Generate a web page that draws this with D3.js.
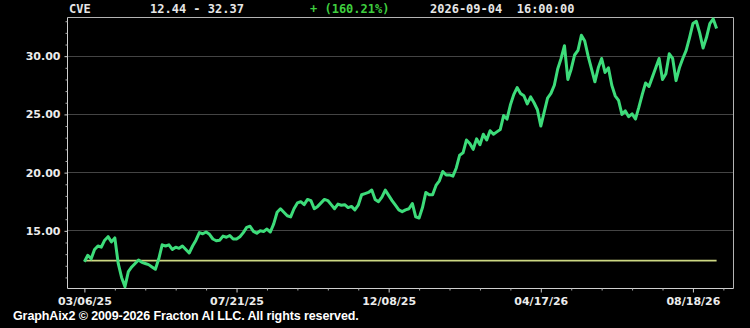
<!DOCTYPE html>
<html lang="en">
<head>
  <meta charset="utf-8">
  <title>CVE</title>
  <script src="https://cdn.jsdelivr.net/npm/d3@7"></script>
  <style>
    body { margin: 0; background: #000; }
    svg { display: block; }
    .hdr { font: bold 12px "DejaVu Sans Mono", monospace; fill: #e6e6e6; }
    .tick-label { font: bold 11px "DejaVu Sans", sans-serif; fill: #ececec; }
    .footer { font: bold 12.5px "Liberation Sans", Arial, sans-serif; fill: #fff; letter-spacing: -0.1px; }
  </style>
</head>
<body>
<script>
  // header
  var symbol = "CVE";
  var rangeText = "12.44 - 32.37";
  var changeText = "+ (160.21%)";
  var stampText = "2026-09-04  16:00:00";

  // closes, one every two sessions
  var closes = [
    12.35, 12.9, 12.6, 13.4, 13.7, 13.6, 14.2, 14.5, 14.05, 14.4,
    12.2, 11.0, 10.2, 11.5, 11.9, 12.2, 12.5, 12.3, 12.2, 12.1,
    11.9, 11.7, 12.6, 13.8, 13.7, 13.8, 13.4, 13.6, 13.5, 13.7,
    13.4, 13.1, 13.7, 14.2, 14.85, 14.75, 14.9, 14.7, 14.3, 14.15,
    14.2, 14.55, 14.45, 14.6, 14.3, 14.3, 14.5, 14.85, 15.3, 15.4,
    14.95, 14.8, 15.0, 14.95, 15.15, 14.9, 15.6, 16.6, 16.9, 16.6,
    16.3, 16.2, 16.9, 17.4, 17.5, 17.25, 17.7, 17.6, 16.9, 17.1,
    17.4, 17.7, 17.6, 17.25, 16.9, 17.3, 17.2, 17.25, 17.0, 17.1,
    16.8, 17.2, 18.1, 18.2, 18.3, 18.5, 17.7, 17.5, 17.9, 18.5,
    18.05, 17.6, 17.2, 16.8, 16.65, 16.8, 16.9, 17.35, 16.2, 16.1,
    17.0, 18.3, 18.1, 18.1, 18.9, 19.3, 20.1, 19.8, 19.8, 19.7,
    20.4, 21.5, 21.7, 22.8, 22.5, 22.0, 22.9, 22.4, 23.3, 22.8,
    23.6, 23.3, 23.5, 23.7, 24.9, 24.6, 25.8, 26.7, 27.3, 26.8,
    26.6, 25.9, 26.5, 26.0, 25.4, 24.0, 25.2, 26.4, 26.8, 27.5,
    28.9, 29.8, 30.9, 28.0, 28.9, 30.1, 30.5, 31.8, 31.3, 30.0,
    28.9, 27.8, 29.0, 29.8, 28.6, 29.0, 27.5, 26.6, 26.2, 25.0,
    25.3, 24.8, 25.05, 24.6, 25.6, 26.7, 27.7, 27.4, 28.2, 29.0,
    29.8, 28.0, 28.5, 30.2, 29.8, 27.9, 29.0, 29.8, 30.5, 31.6,
    32.8, 33.0, 32.0, 30.7, 31.6, 32.8, 33.2, 32.37
  ];
  var baseClose = 12.44;

  var dateTicks = [0, 45, 90, 135, 180];
  var dateLabels = ["03/06/25", "07/21/25", "12/08/25", "04/17/26", "08/18/26"];
  var minorStep = 9;
  var priceTicks = [15, 20, 25, 30];

  var margin = { top: 17, right: 17, bottom: 40, left: 67 },
    width = 750 - margin.left - margin.right,
    height = 328 - margin.top - margin.bottom;

  var x = d3.scaleLinear().domain([-5, 192]).range([0, width]);
  var y = d3.scaleLinear().domain([10.05, 33.32]).range([height, 0]);

  var svg = d3.select("body").append("svg")
    .attr("width", 750)
    .attr("height", 328)
    .style("background", "#000");

  var g = svg.append("g")
    .attr("transform", "translate(" + (margin.left + 0.5) + "," + (margin.top + 0.5) + ")");

  // grid
  g.selectAll(".grid").data(priceTicks).enter().append("line")
    .attr("x1", 0).attr("x2", width)
    .attr("y1", function(d) { return Math.round(y(d)); })
    .attr("y2", function(d) { return Math.round(y(d)); })
    .attr("stroke", "#444");

  // frame
  g.append("path")
    .attr("d", "M0,0H" + width + "V" + height)
    .attr("fill", "none")
    .attr("stroke", "#b4b4b4");

  // y axis
  var minorPrices = d3.range(11, 34).filter(function(v) { return v % 5 !== 0; });
  var yAxis = d3.axisLeft(y).tickValues(priceTicks).tickFormat(d3.format(".2f")).tickSize(3).tickPadding(4);
  var yg = g.append("g").call(yAxis);
  yg.select(".domain").attr("stroke", "#cfcfcf").attr("d", "M0,0V" + height);
  yg.selectAll(".tick line").attr("stroke", "#cfcfcf");
  yg.selectAll(".tick text").attr("class", "tick-label").attr("fill", null);
  g.append("g").call(d3.axisLeft(y).tickValues(minorPrices).tickSize(2).tickFormat(""))
    .call(function(s) { s.select(".domain").remove(); s.selectAll("line").attr("stroke", "#aaa"); });

  // x axis
  var xAxis = d3.axisBottom(x).tickValues(dateTicks)
    .tickFormat(function(d, i) { return dateLabels[i]; }).tickSize(4).tickPadding(5);
  var xg = g.append("g").attr("transform", "translate(0," + height + ")").call(xAxis);
  xg.select(".domain").attr("stroke", "#cfcfcf").attr("d", "M0,0H" + width);
  xg.selectAll(".tick line").attr("stroke", "#cfcfcf");
  xg.selectAll(".tick text").attr("class", "tick-label").attr("fill", null);
  var minorDates = d3.range(0, 192, minorStep).filter(function(v) { return dateTicks.indexOf(v) < 0; });
  g.append("g").attr("transform", "translate(0," + height + ")")
    .call(d3.axisBottom(x).tickValues(minorDates).tickSize(2).tickFormat(""))
    .call(function(s) { s.select(".domain").remove(); s.selectAll("line").attr("stroke", "#aaa"); });

  // base line
  g.append("line")
    .attr("x1", x(0)).attr("x2", x(closes.length - 1))
    .attr("y1", y(baseClose)).attr("y2", y(baseClose))
    .attr("stroke", "#cdd883").attr("stroke-width", 1.6);

  // price line
  var line = d3.line()
    .x(function(d, i) { return x(i); })
    .y(function(d) { return y(d); });
  g.append("path")
    .datum(closes)
    .attr("d", line)
    .attr("fill", "none")
    .attr("stroke", "#3ddc7a")
    .attr("stroke-width", 3)
    .attr("stroke-linejoin", "round");

  // header
  var hdr = svg.append("g").attr("class", "hdr");
  hdr.append("text").attr("x", 69).attr("y", 13).text(symbol);
  hdr.append("text").attr("x", 150).attr("y", 13).attr("xml:space", "preserve").text(rangeText);
  hdr.append("text").attr("x", 310).attr("y", 13).attr("xml:space", "preserve").style("fill", "#3fcf3f").text(changeText);
  hdr.append("text").attr("x", 430).attr("y", 13).attr("xml:space", "preserve").style("white-space", "pre").text(stampText);

  svg.append("text").attr("class", "footer").attr("x", 13).attr("y", 320)
    .text("GraphAix2 \u00a9 2009-2026 Fracton AI LLC. All rights reserved.");
</script>
</body>
</html>
